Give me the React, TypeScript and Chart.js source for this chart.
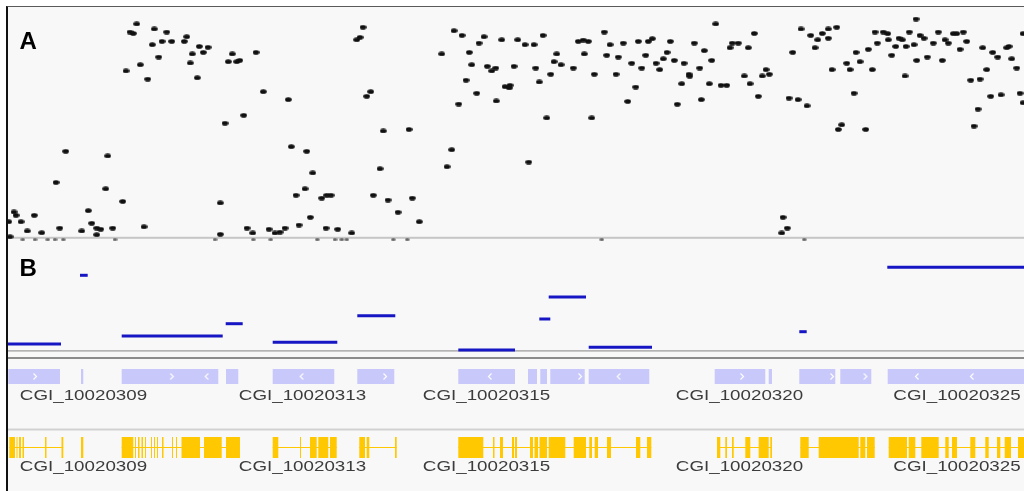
import React, { useEffect, useRef } from 'react';
import { Chart, registerables } from 'chart.js';
Chart.register(...registerables);

// ---------- Panel A: methylation level per CpG (position, level) ----------
const methPos = [
  128.7, 122, 125.3, 146.3, 158.7, 144.3, 154, 163.7, 176.3, 178.7, 150.7, 118, 132.3, 139.7, 184.3, 182.3, 191.3, 195.3, 200, 189.3,
  57.7, 99.7, 48, 97.7, 114.7, 80.3, 6, 8, 26.3, 13, 0.7, 83.7, 88.7, 92.7, 104.7, 136, 51.7, 19.3, 33.7, 73.7, 88.7, 2,
  224.3, 220.3, 228.7, 231.7, 248, 355, 348.7, 352, 255.3, 280.3, 362.7, 358.7, 235.7, 217, 375.3, 401, 283.3, 298.7, 304.7, 372,
  297, 288, 313.7, 318.7, 323, 365.3, 380, 404.3, 212.3, 390, 302.3, 239, 244.7, 261, 267, 272, 277, 291, 318, 329.7, 343.7, 212.3, 411.3,
  446, 454, 476, 471, 493.7, 509.7, 517, 526, 535, 570.3, 575.3, 580.3, 596.3, 602, 433.7, 461.3, 463.7, 479.3, 483.7, 487.7, 506, 527.7,
  548.7, 546, 553, 565.3, 576.3, 598.7, 610.3, 542.7, 586.3, 608, 458, 531.3, 497, 502, 501.3, 468.7, 488.3, 450.7, 538.7, 583.7,
  443.7, 439, 520.7,
  707.7, 615.3, 630.3, 640.3, 644.3, 662.3, 686.3, 696.3, 724.3, 730.3, 722, 740.3, 746.3, 793, 802.7, 809.7, 814.3, 807, 784.7,
  623.7, 637.7, 633.7, 648, 655.3, 659, 651.7, 666.3, 676, 691.7, 703.7, 627.7, 619.7, 673.7, 681, 681.7, 669.3, 693.3, 701.3, 713,
  718.7, 736.3, 742, 750.3, 754.3, 761.3, 758, 781, 790, 799, 775, 779.3, 773.7,
  820.3, 828.7, 820.3, 908, 867, 875.3, 879.7, 901.3, 912, 916, 930.3, 945.3, 948.7, 955.3, 880.3, 891, 894.3, 869.3, 887.7, 898,
  906, 925.3, 937, 940.3, 958.7, 952, 974.7, 848, 860.3, 883.7, 908.7, 919.3, 934.3, 838.7, 852, 824, 842, 864.3, 897, 984.7,
  989.7, 998.7, 1001, 1003.7, 1008.7, 1015, 978.7, 962.7, 972, 846, 982.7, 993, 1012, 1015, 970, 833.7, 830.3, 857.7, 966,
];
const methVal = [
  0.978, 0.941, 0.935, 0.955, 0.941, 0.884, 0.899, 0.899, 0.899, 0.92, 0.828, 0.765, 0.793, 0.728, 0.842, 0.801, 0.876, 0.849, 0.872, 0.734,
  0.401, 0.38, 0.26, 0.231, 0.174, 0.132, 0.126, 0.111, 0.111, 0.082, 0.082, 0.075, 0.053, 0.048, 0.053, 0.059, 0.053, 0.04, 0.032, 0.04, 0.023, 0.014,
  0.842, 0.807, 0.807, 0.813, 0.849, 0.963, 0.906, 0.917, 0.671, 0.635, 0.671, 0.65, 0.564, 0.528, 0.493, 0.5, 0.422, 0.401, 0.303, 0.322,
  0.231, 0.202, 0.189, 0.202, 0.202, 0.202, 0.18, 0.189, 0.167, 0.125, 0.102, 0.053, 0.031, 0.048, 0.031, 0.035, 0.053, 0.067, 0.053, 0.048, 0.031, 0.025, 0.082,
  0.947, 0.926, 0.92, 0.891, 0.906, 0.906, 0.884, 0.884, 0.926, 0.899, 0.905, 0.899, 0.941, 0.884, 0.842, 0.849, 0.793, 0.786, 0.765, 0.778, 0.786, 0.778,
  0.842, 0.807, 0.793, 0.778, 0.842, 0.836, 0.828, 0.75, 0.75, 0.75, 0.723, 0.715, 0.694, 0.7, 0.688, 0.664, 0.629, 0.615, 0.552, 0.552,
  0.408, 0.331, 0.352,
  0.978, 0.891, 0.899, 0.899, 0.911, 0.899, 0.891, 0.857, 0.891, 0.891, 0.87, 0.87, 0.935, 0.955, 0.926, 0.906, 0.935, 0.87, 0.849,
  0.8, 0.836, 0.778, 0.8, 0.82, 0.849, 0.771, 0.813, 0.8, 0.778, 0.813, 0.692, 0.627, 0.707, 0.75, 0.741, 0.614, 0.635, 0.707, 0.7,
  0.7, 0.742, 0.707, 0.65, 0.742, 0.75, 0.771, 0.642, 0.635, 0.607, 0.102, 0.053, 0.031,
  0.955, 0.963, 0.913, 1.0, 0.941, 0.941, 0.934, 0.941, 0.926, 0.913, 0.941, 0.934, 0.934, 0.941, 0.906, 0.913, 0.906, 0.891, 0.876, 0.876,
  0.884, 0.891, 0.906, 0.891, 0.899, 0.863, 0.87, 0.849, 0.863, 0.836, 0.813, 0.828, 0.813, 0.8, 0.807, 0.771, 0.771, 0.771, 0.742, 0.849,
  0.828, 0.87, 0.876, 0.82, 0.778, 0.934, 0.771, 0.723, 0.728, 0.664, 0.65, 0.657, 0.664, 0.621, 0.592, 0.521, 0.5, 0.5, 0.515,
];
// CpGs with zero level
const zeroPos = [14.7, 27, 39.7, 47, 55.3, 107, 207, 245.3, 262.7, 309.3, 327, 333.7, 338.7, 385.3, 399.3, 593.7, 796.3];

// ---------- Panel B: segment scores ----------
const segStart = [0, 72, 113.7, 217.7, 264.7, 349.3, 450.3, 531.3, 540.7, 580.7, 791.3, 879.3];
const segEnd = [53, 79.7, 214.7, 234.7, 329.3, 387.3, 507, 542.3, 578, 644, 798.7, 1016];
const segVal = [0.06, 0.747, 0.14, 0.263, 0.077, 0.343, 0.0, 0.31, 0.53, 0.027, 0.183, 0.827];

// ---------- CGI track (lavender) ----------
const cgiStart = [0.3, 73, 113.7, 218, 264.7, 349.3, 450.3, 520, 532.3, 542.3, 580.7, 706.7, 760.7, 791.3, 832.3, 879.7];
const cgiEnd = [52, 75.3, 210.3, 230.3, 326.3, 386.3, 507, 529, 539, 576.7, 641.3, 757.3, 764, 827.3, 863.3, 1016];
const chevRight = [27, 163.7, 377, 572, 734, 824, 857.3];
const chevLeft = [198.7, 293.7, 482, 610.7, 909, 964];

// ---------- Gene track (yellow) ----------
const exonStart = [
  1.3, 8.5, 11, 14.5, 37, 53.5, 73,
  113.7, 127, 130, 133.5, 137, 143, 146, 149, 154, 164, 168, 173.5, 196, 218,
  264.7, 292, 302, 310.3, 322,
  351.3, 358.7, 387,
  450.3, 485, 492, 504, 507, 522, 526.5, 531.5, 540.7, 565.7, 581.3, 586.7, 599, 628, 639,
  709, 717.3, 724, 737.3, 750.7, 762.3,
  792.3, 810.7, 852.3, 859,
  880.7, 900.7, 913.3, 937.3, 944, 962.3, 977.3, 989, 996.7, 1010,
];
const exonEnd = [
  7, 9.5, 13, 16, 38.5, 55.3, 75.3,
  125.3, 128, 131.5, 135, 138, 144, 147, 150, 155.5, 165, 169, 192, 213.7, 232,
  270.3, 293, 308.7, 320.3, 328.7,
  357, 361.3, 388.7,
  475.3, 486.5, 495, 506, 509, 525, 530, 539, 557.3, 578, 584, 590, 603, 632.3, 643.3,
  712.3, 719, 725.7, 742.3, 760.7, 764,
  800.7, 850.7, 857.3, 866.7,
  899, 907.3, 930.7, 940.7, 949, 967.3, 980.7, 992.3, 1003, 1016,
];
const geneStart = [1.3, 113.7, 264.7, 351.3, 450.3, 709, 792.3, 880.7];
const geneEnd = [55.3, 232, 328.7, 388.7, 643.3, 764, 866.7, 1016];

const labelText = ['CGI_10020309', 'CGI_10020313', 'CGI_10020315', 'CGI_10020320', 'CGI_10020325'];
const labelPos = [75.5, 294.5, 478.5, 731.5, 949];

const X_MAX = 1016;
const W = 1016;

function dotImage(w: number, h: number, color: string) {
  const c = document.createElement('canvas');
  c.width = w; c.height = h;
  const g = c.getContext('2d')!;
  g.fillStyle = color;
  g.beginPath();
  g.ellipse(w / 2, h / 2, w / 2 - 0.2, h / 2 - 0.2, 0, 0, Math.PI * 2);
  g.fill();
  return c;
}
function chevImage(dir: number) {
  const c = document.createElement('canvas');
  c.width = 6; c.height = 9;
  const g = c.getContext('2d')!;
  g.strokeStyle = 'rgba(255,255,255,0.95)';
  g.lineWidth = 1.2;
  g.beginPath();
  if (dir > 0) { g.moveTo(1.5, 1.5); g.lineTo(4.5, 4.5); g.lineTo(1.5, 7.5); }
  else { g.moveTo(4.5, 1.5); g.lineTo(1.5, 4.5); g.lineTo(4.5, 7.5); }
  g.stroke();
  return c;
}
function segData(starts: number[], ends: number[], y: number) {
  const d: any[] = [];
  starts.forEach((s, i) => { d.push({ x: s, y }, { x: ends[i], y }, { x: ends[i], y: null }); });
  return d;
}

const decor = {
  id: 'decor',
  beforeDatasetsDraw(chart: any, _a: any, o: any) {
    const { ctx, scales } = chart;
    const z = scales.y.getPixelForValue(0);
    ctx.save();
    (o.lines || []).forEach((l: any) => {
      ctx.fillStyle = l.color;
      ctx.fillRect(0, l.abs ? l.dy : z + l.dy, chart.width, l.h);
    });
    ctx.restore();
  },
  afterDatasetsDraw(chart: any, _a: any, o: any) {
    const { ctx, scales } = chart;
    ctx.save();
    if (o.letter) {
      ctx.font = 'bold 24px "Liberation Sans", Arial, sans-serif';
      ctx.fillStyle = '#000';
      ctx.textBaseline = 'alphabetic';
      ctx.fillText(o.letter, o.letterX, o.letterY);
    }
    if (o.labels) {
      ctx.font = '14px "Liberation Sans", Arial, sans-serif';
      ctx.fillStyle = '#3c3c3c';
      ctx.textAlign = 'center';
      ctx.textBaseline = 'alphabetic';
      const base = scales.y.getPixelForValue(0) + o.labelOffset;
      o.labels.forEach((t: string, i: number) => {
        ctx.save();
        ctx.translate(scales.x.getPixelForValue(o.labelPos[i]), base);
        ctx.scale(1.34, 1);
        ctx.fillText(t, 0, 0);
        ctx.restore();
      });
    }
    ctx.restore();
  },
};

function baseOptions(ymin: number, ymax: number, decorOpts: any) {
  return {
    responsive: false,
    animation: false as const,
    events: [] as any[],
    layout: { padding: 0, autoPadding: false },
    plugins: { legend: { display: false }, tooltip: { enabled: false }, decor: decorOpts },
    scales: {
      x: { type: 'linear' as const, min: 0, max: X_MAX, display: false },
      y: { type: 'linear' as const, min: ymin, max: ymax, display: false },
    },
  };
}

export default function App() {
  const aRef = useRef<HTMLCanvasElement>(null);
  const bRef = useRef<HTMLCanvasElement>(null);
  const cRef = useRef<HTMLCanvasElement>(null);
  const dRef = useRef<HTMLCanvasElement>(null);

  useEffect(() => {
    const charts: Chart[] = [];
    const dot = dotImage(7, 5, '#101010');
    const zdot = dotImage(5, 3, '#5a5a5a');

    // Panel A
    charts.push(new Chart(aRef.current!, {
      type: 'scatter',
      data: {
        datasets: [
          { data: methPos.map((x, i) => ({ x, y: methVal[i] })), pointStyle: dot as any, pointRadius: 3, clip: false as any },
          { data: zeroPos.map((x) => ({ x, y: 0 })), pointStyle: zdot as any, pointRadius: 2, clip: false as any },
        ],
      },
      options: baseOptions(-0.01, 1.05, {
        lines: [{ dy: -3, h: 2, color: '#c6c6c6' }],
        letter: 'A', letterX: 11.5, letterY: 41.3,
      }) as any,
      plugins: [decor],
    }));

    // Panel B
    charts.push(new Chart(bRef.current!, {
      type: 'scatter',
      data: {
        datasets: segStart.map((s, i) => ({
          data: [{ x: s, y: segVal[i] }, { x: segEnd[i], y: segVal[i] }],
          showLine: true, borderColor: '#1616c4', borderWidth: 3, pointRadius: 0, borderCapStyle: 'butt' as const,
        })),
      },
      options: baseOptions(-0.1, 1.08, {
        lines: [{ dy: 0, h: 1.7, color: '#b4b4b4' }, { dy: 7, h: 2, color: '#8c8c8c' }],
        letter: 'B', letterX: 11.5, letterY: 34,
      }) as any,
      plugins: [decor],
    }));

    // CGI track
    charts.push(new Chart(cRef.current!, {
      type: 'scatter',
      data: {
        datasets: [
          { data: chevRight.map((x) => ({ x, y: 0 })), pointStyle: chevImage(1) as any, pointRadius: 3 },
          { data: chevLeft.map((x) => ({ x, y: 0 })), pointStyle: chevImage(-1) as any, pointRadius: 3 },
          { data: segData(cgiStart, cgiEnd, 0), showLine: true, borderColor: '#c8c8fa', borderWidth: 15, pointRadius: 0, borderCapStyle: 'butt' as const },
        ],
      },
      options: baseOptions(-5.15, 1.65, { labels: labelText, labelPos, labelOffset: 23 }) as any,
      plugins: [decor],
    }));

    // Gene track
    charts.push(new Chart(dRef.current!, {
      type: 'scatter',
      data: {
        datasets: [
          { data: segData(exonStart, exonEnd, 0), showLine: true, borderColor: '#ffc800', borderWidth: 21, pointRadius: 0, borderCapStyle: 'butt' as const },
          { data: segData(geneStart, geneEnd, 0), showLine: true, borderColor: '#ffc800', borderWidth: 1, pointRadius: 0, borderCapStyle: 'butt' as const },
        ],
      },
      options: baseOptions(-4.35, 1.95, {
        lines: [{ abs: true, dy: 0.5, h: 2, color: '#d2d2d2' }],
        labels: labelText, labelPos, labelOffset: 23.2,
      }) as any,
      plugins: [decor],
    }));

    return () => charts.forEach((c) => c.destroy());
  }, []);

  const cv = (top: number, h: number): React.CSSProperties => ({ position: 'absolute', left: 8, top, width: W, height: h, display: 'block' });

  return (
    <div style={{ position: 'absolute', left: 0, top: 0, width: 1024, height: 491, background: '#fff', overflow: 'hidden' }}>
      <div style={{ position: 'absolute', left: 6, top: 6, width: 1018, height: 485, background: '#f8f8f8', borderLeft: '2px solid #111', borderTop: '1.5px solid #5a5a5a', boxSizing: 'border-box' }} />
      <canvas ref={aRef} width={W} height={234} style={cv(8, 234)} />
      <canvas ref={bRef} width={W} height={118} style={cv(242, 118)} />
      <canvas ref={cRef} width={W} height={68} style={cv(360, 68)} />
      <canvas ref={dRef} width={W} height={63} style={cv(428, 63)} />
    </div>
  );
}
